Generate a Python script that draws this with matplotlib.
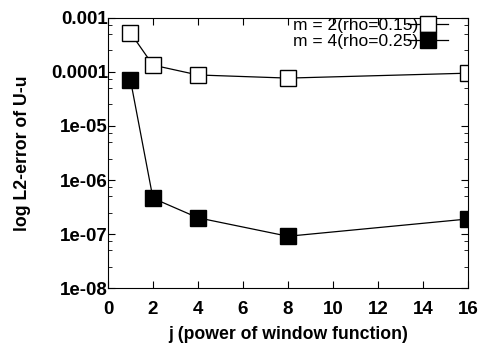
import matplotlib.pyplot as plt
import numpy as np

plt.rcParams['font.family'] = ['Liberation Sans', 'DejaVu Sans']

j_vals = [1, 2, 4, 8, 16]
err_m2 = [5.3e-4, 1.34e-4, 8.8e-5, 7.7e-5, 9.5e-5]
err_m4 = [7.1e-5, 4.6e-7, 2.0e-7, 9.1e-8, 1.9e-7]
labels = ['m = 2(rho=0.15)', 'm = 4(rho=0.25)']

fig = plt.figure(figsize=(4.93, 3.45), dpi=100)
ax = fig.add_axes([0.219, 0.165, 0.730, 0.783])

ax.plot(j_vals, err_m2, color='black', lw=0.9, marker='s', ms=11,
        mfc='white', mec='black', mew=1.0, label=labels[0])
ax.plot(j_vals, err_m4, color='black', lw=0.9, marker='s', ms=11,
        mfc='black', mec='black', label=labels[1])

ax.set_yscale('log')
ax.set_xlim(0, 16)
ax.set_ylim(1e-8, 1e-3)
ax.set_xticks(range(0, 17, 2))
ax.set_yticks([1e-8, 1e-7, 1e-6, 1e-5, 1e-4, 1e-3])
ax.set_yticklabels(['1e-08', '1e-07', '1e-06', '1e-05', '0.0001', '0.001'])
ax.yaxis.set_minor_locator(plt.matplotlib.ticker.LogLocator(base=10, subs=(2.5, 5, 7.5), numticks=20))
ax.yaxis.set_minor_formatter(plt.NullFormatter())
ax.tick_params(which='both', direction='in', top=True, right=True)
ax.tick_params(which='major', length=5, labelsize=13.5)
ax.tick_params(axis='x', which='major', pad=9)
ax.tick_params(axis='y', which='major', pad=0)
ax.tick_params(which='minor', length=3)
for lab in ax.get_xticklabels() + ax.get_yticklabels():
    lab.set_fontweight('bold')

ax.set_xlabel('j (power of window function)', fontsize=12.7, fontweight='bold', labelpad=6)
ax.set_ylabel('log L2-error of U-u', fontsize=12.7, fontweight='bold', labelpad=14)

leg = ax.legend(loc='upper right', bbox_to_anchor=(0.944, 1.0), markerfirst=False,
                frameon=False, fontsize=12.5, handlelength=2.3, handletextpad=-0.6,
                labelspacing=0.02, borderaxespad=0, borderpad=0)

fig.savefig('out.png', dpi=100)
